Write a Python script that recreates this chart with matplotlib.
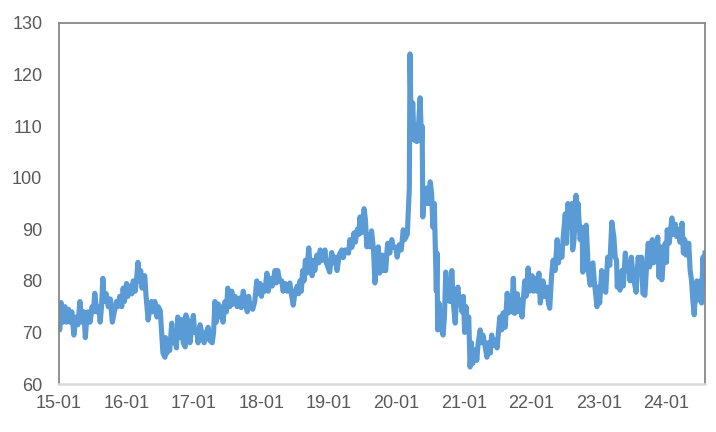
import matplotlib.pyplot as plt

# dates in decimal years
t_2015_16 = [2015.00, 2015.01, 2015.03, 2015.06, 2015.09, 2015.11, 2015.14, 2015.16, 2015.19, 2015.22,
             2015.25, 2015.28, 2015.31, 2015.34, 2015.37, 2015.39, 2015.41, 2015.43, 2015.46, 2015.49,
             2015.51, 2015.53, 2015.56, 2015.59, 2015.61, 2015.63, 2015.65, 2015.67, 2015.70, 2015.73,
             2015.76, 2015.79, 2015.82, 2015.85, 2015.87, 2015.90, 2015.93, 2015.95, 2015.97,
             2016.00, 2016.02, 2016.05, 2016.08, 2016.10, 2016.13, 2016.15, 2016.17, 2016.19, 2016.21,
             2016.23, 2016.25, 2016.27, 2016.29, 2016.32, 2016.34, 2016.37, 2016.39, 2016.42, 2016.45,
             2016.47, 2016.49, 2016.50, 2016.52, 2016.54, 2016.57, 2016.58, 2016.60, 2016.61, 2016.64,
             2016.67, 2016.69, 2016.72, 2016.74, 2016.76, 2016.79, 2016.82, 2016.84, 2016.87, 2016.88,
             2016.91, 2016.92, 2016.94, 2016.99]
v_2015_16 = [75.5, 70.5, 75.8, 72, 75, 72, 74.5, 72, 74, 69.5,
             73, 71.5, 76, 72, 74, 69, 72.5, 74, 72, 75,
             74, 77.6, 74, 75, 72, 75, 80.5, 76, 77.5, 75,
             76.5, 72, 74, 76, 75, 77, 75, 78.6, 76,
             79.5, 77, 79, 77.5, 80, 78, 80.5, 83.6, 80, 82,
             78.6, 80, 81, 77, 72.4, 74, 76, 74, 76, 73,
             75, 74.5, 74.2, 70, 66, 65.2, 69, 66, 68, 66.5,
             71.8, 68, 69, 67, 73, 69, 72.5, 68, 67.2, 73.4,
             72.3, 71, 68, 73.3]

t_2017_18 = [2017.01, 2017.04, 2017.06, 2017.09, 2017.12, 2017.15, 2017.18, 2017.21, 2017.23, 2017.27,
             2017.29, 2017.31, 2017.33, 2017.36, 2017.38, 2017.41, 2017.43, 2017.46, 2017.48, 2017.50,
             2017.53, 2017.56, 2017.58, 2017.61, 2017.64, 2017.68, 2017.70, 2017.73, 2017.76, 2017.79,
             2017.81, 2017.83, 2017.87, 2017.90, 2017.93, 2017.95, 2017.98,
             2018.00, 2018.02, 2018.05, 2018.08, 2018.10, 2018.13, 2018.16, 2018.20, 2018.22, 2018.24,
             2018.27, 2018.30, 2018.32, 2018.35, 2018.38, 2018.42, 2018.44, 2018.47, 2018.50, 2018.53,
             2018.55, 2018.57, 2018.59, 2018.61, 2018.63, 2018.65, 2018.67, 2018.70, 2018.72, 2018.75,
             2018.77, 2018.79, 2018.82, 2018.85, 2018.87, 2018.90, 2018.94, 2018.96]
v_2017_18 = [70, 70.5, 68, 71.5, 69.5, 68, 70, 71, 68.5, 68,
             70, 76, 72, 75.5, 73, 75, 72, 76, 74, 78.6,
             75, 78, 75.5, 77, 75, 76.7, 74.8, 78, 75.6, 74,
             77, 75, 74.5, 76, 80, 77.5, 79.5,
             77, 79, 78, 81.5, 78, 80.5, 79, 82, 79.6, 82,
             80, 80, 78, 79.5, 78, 79.6, 77.6, 75.3, 78, 79,
             77.5, 80, 78, 82, 80, 84, 81.5, 86.4, 83, 81,
             84, 82, 85, 83.5, 86, 84, 86, 83.5]

t_2019_20 = [2019.01, 2019.04, 2019.06, 2019.09, 2019.12, 2019.15, 2019.19, 2019.21, 2019.24, 2019.27,
             2019.29, 2019.31, 2019.34, 2019.37, 2019.39, 2019.42, 2019.44, 2019.46, 2019.48, 2019.52,
             2019.54, 2019.56, 2019.58, 2019.61, 2019.63, 2019.66, 2019.68, 2019.70, 2019.73, 2019.75,
             2019.79, 2019.81, 2019.84, 2019.86, 2019.87, 2019.90, 2019.93, 2019.95, 2019.99,
             2020.01, 2020.04, 2020.07, 2020.10, 2020.12, 2020.16, 2020.18, 2020.19, 2020.20, 2020.22,
             2020.24, 2020.26, 2020.28, 2020.30, 2020.33, 2020.35, 2020.37, 2020.38, 2020.39, 2020.41,
             2020.43, 2020.45, 2020.47, 2020.50, 2020.52, 2020.54, 2020.56, 2020.59, 2020.60, 2020.61,
             2020.63, 2020.66, 2020.69, 2020.71, 2020.73, 2020.75, 2020.77, 2020.79, 2020.82, 2020.84,
             2020.87, 2020.89, 2020.91, 2020.93, 2020.95, 2020.97, 2020.99]
v_2019_20 = [81.7, 85.5, 83.5, 84.6, 82, 85, 86, 84.5, 86, 85.5,
             85.4, 88, 86.5, 89.3, 87.5, 90, 89, 92.4, 89.3, 94,
             91.8, 86.6, 89, 86.6, 89.7, 86, 79.6, 84, 86.6, 81.5,
             85, 82, 82, 86, 87.3, 85.4, 88, 86.6, 86.5,
             84.6, 87, 86, 89.9, 88, 89, 95, 98, 124, 107.5,
             114.5, 107.3, 110, 107, 111, 115.5, 107, 110, 92.4, 98,
             95, 98, 95, 99.2, 97, 90.4, 95, 78, 85.4, 70.5,
             75.7, 71, 69.5, 73, 81.7, 76.3, 80, 76, 82, 76,
             71.8, 77, 78.8, 75.7, 76, 74, 77]

t_2021_22 = [2021.01, 2021.03, 2021.05, 2021.07, 2021.09, 2021.11, 2021.13, 2021.16, 2021.19, 2021.21,
             2021.24, 2021.26, 2021.28, 2021.31, 2021.34, 2021.36, 2021.39, 2021.41, 2021.43, 2021.46,
             2021.49, 2021.51, 2021.53, 2021.56, 2021.58, 2021.61, 2021.64, 2021.66, 2021.67, 2021.71,
             2021.73, 2021.75, 2021.79, 2021.81, 2021.83, 2021.86, 2021.90, 2021.92, 2021.95, 2021.97,
             2022.01, 2022.03, 2022.05, 2022.08, 2022.11, 2022.13, 2022.17, 2022.19, 2022.23, 2022.25,
             2022.27, 2022.30, 2022.32, 2022.35, 2022.38, 2022.40, 2022.42, 2022.45, 2022.47, 2022.50,
             2022.52, 2022.54, 2022.56, 2022.60, 2022.61, 2022.63, 2022.66, 2022.68, 2022.69, 2022.72,
             2022.75, 2022.76, 2022.78, 2022.81, 2022.83, 2022.84, 2022.87, 2022.89, 2022.91, 2022.93,
             2022.97, 2022.99]
v_2021_22 = [70, 75, 71, 73, 63.3, 68, 64, 66.6, 64.6, 68,
             70.5, 68, 69.5, 67.5, 65.2, 68, 66, 69.5, 67.5, 68.5,
             67, 70, 73, 70.5, 73.8, 71, 77.6, 73.8, 77, 74,
             80.5, 73.7, 77.5, 74, 76.3, 73, 80, 77, 82.5, 78,
             81, 78, 80.5, 78, 81.5, 75.7, 80, 77, 78.8, 75.7,
             74.7, 81.5, 84, 82, 88, 83.5, 86.6, 84.6, 88.5, 93,
             87.3, 95, 90.4, 95, 86, 88, 96.6, 90, 95, 88,
             90.4, 81.7, 87.3, 90.8, 85.4, 82, 79.2, 83, 83.5, 80,
             75, 78.8]

t_2023_24 = [2023.01, 2023.04, 2023.06, 2023.10, 2023.12, 2023.13, 2023.16, 2023.19, 2023.22, 2023.24,
             2023.26, 2023.27, 2023.29, 2023.31, 2023.34, 2023.36, 2023.39, 2023.41, 2023.44, 2023.46,
             2023.48, 2023.50, 2023.55, 2023.58, 2023.61, 2023.63, 2023.65, 2023.68, 2023.71, 2023.73,
             2023.75, 2023.79, 2023.81, 2023.83, 2023.85, 2023.87, 2023.89, 2023.91, 2023.93, 2023.96,
             2023.98, 2024.00, 2024.01, 2024.04, 2024.08, 2024.10, 2024.13, 2024.15, 2024.17, 2024.20,
             2024.23, 2024.25, 2024.27, 2024.29, 2024.33, 2024.35, 2024.37, 2024.39, 2024.41, 2024.43,
             2024.45, 2024.47, 2024.50, 2024.52, 2024.54, 2024.56, 2024.57]
v_2023_24 = [75.7, 82, 78.8, 77.8, 82.7, 84.6, 83, 91.4, 88.5, 84.6,
             84, 78.8, 80.7, 78.2, 82, 79, 85.4, 82, 83.5, 80,
             84.6, 81.5, 77.8, 84.6, 82, 84.6, 77.6, 77.2, 84, 87.3,
             82.7, 88, 83.5, 86, 84.6, 88.5, 80.7, 86.6, 80.2, 85,
             87.3, 83.6, 89.9, 87.3, 92.2, 89, 91, 88.6, 90, 87.5,
             91.2, 85.4, 88, 85, 87.3, 82, 80.2, 76.3, 73.4, 78,
             80, 76.3, 80, 75.7, 84.6, 80, 85.4]

tick_years = [2015, 2016, 2017, 2018, 2019, 2020, 2021, 2022, 2023, 2024]
tick_labels = ["15-01", "16-01", "17-01", "18-01", "19-01",
               "20-01", "21-01", "22-01", "23-01", "24-01"]

t = t_2015_16 + t_2017_18 + t_2019_20 + t_2021_22 + t_2023_24
v = v_2015_16 + v_2017_18 + v_2019_20 + v_2021_22 + v_2023_24

plt.rcParams['font.family'] = ['Liberation Sans', 'DejaVu Sans']

fig = plt.figure(figsize=(7.16, 4.32), dpi=100)
ax = fig.add_axes([0.0824, 0.111, 0.9022, 0.8358])

ax.plot(t, v, color="#5B9BD5", lw=3.7, solid_joinstyle="round")

ax.set_xlim(2015, 2024.57)
ax.set_ylim(60, 130)
ax.set_yticks(range(60, 131, 10))
ax.set_xticks(tick_years)
ax.set_xticklabels(tick_labels)

for side in ["left", "top", "right"]:
  ax.spines[side].set_color("#878787")
  ax.spines[side].set_linewidth(1.3)
ax.spines["bottom"].set_color("#D9D9D9")
ax.spines["bottom"].set_linewidth(1.8)

ax.tick_params(axis="y", length=0, pad=12, labelsize=13, labelcolor="#595959")
ax.tick_params(axis="x", length=0, pad=8, labelsize=13, labelcolor="#595959")

fig.savefig("out.png", dpi=100)
